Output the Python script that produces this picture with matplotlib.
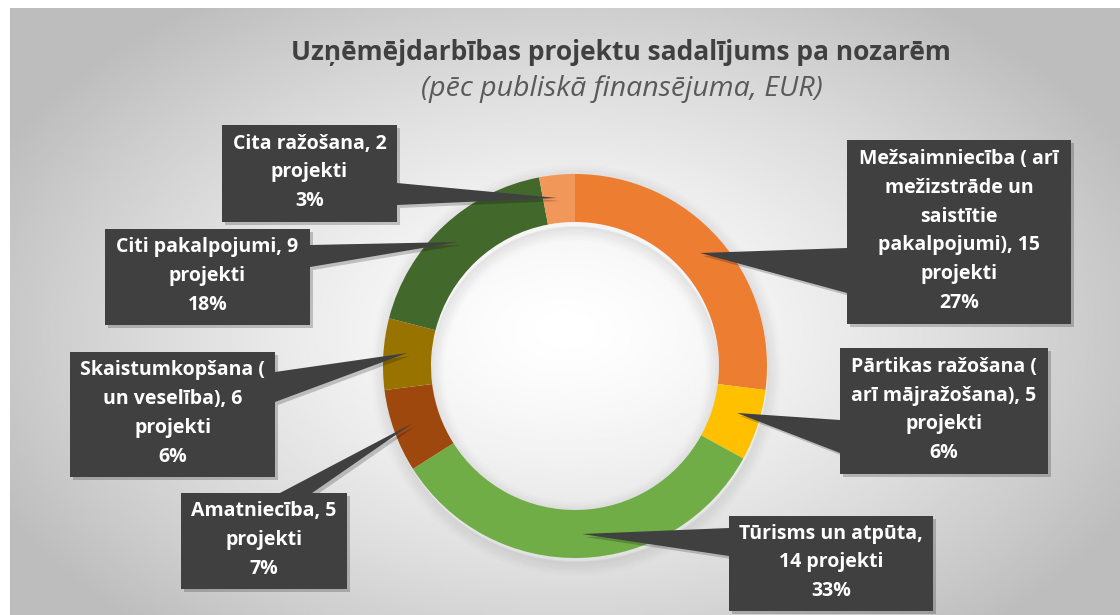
import textwrap
import numpy as np
import matplotlib.pyplot as plt
from matplotlib.patches import Polygon, Circle

# sectors, project counts and share of public funding (%)
sectors = ["Mežsaimniecība ( arī mežizstrāde un saistītie pakalpojumi)",
           "Pārtikas ražošana ( arī mājražošana)",
           "Tūrisms un atpūta",
           "Amatniecība",
           "Skaistumkopšana ( un veselība)",
           "Citi pakalpojumi",
           "Cita ražošana"]
projects = [15, 5, 14, 5, 6, 9, 2]
shares = [27, 6, 33, 7, 6, 18, 3]
colors = ["#ED7D31", "#FFC000", "#70AD47", "#9E480E", "#997300", "#43682B", "#F1975A"]

W, H = 1120, 615
CX, CY, R, RING = 575, 366, 192, 48

# callout layout in image pixels: box (x0, x1, y0, y1), tip, two base points
wrap = [20, 19, 18, 14, 17, 19, 16]
boxes = [(847, 1071, 140, 324), (840, 1048, 348, 474), (729, 933, 516, 611),
         (181, 347, 493, 589), (70, 275, 352, 477), (105, 310, 229, 325),
         (222, 397, 125, 222)]
tips = [(700, 253), (737, 413), (582, 534), (413, 423), (407, 353), (458, 242), (557, 198)]
bases = [((847, 248), (847, 293)), ((840, 420), (840, 453)), ((729, 528), (729, 556)),
         ((280, 493), (312, 493)), ((275, 372), (275, 402)), ((310, 245), (310, 267)),
         ((397, 183), (397, 205))]


def Y(y):
    return H - y


fig = plt.figure(figsize=(W / 100, H / 100), dpi=100)
fig.patch.set_facecolor("white")
ax = fig.add_axes([0, 0, 1, 1])

# radial gradient background
gx, gy = np.meshgrid(np.linspace(10, W, 400), np.linspace(8, H, 250))
r = np.sqrt(((gx - 565) / 600) ** 2 + ((gy - 330) / 380) ** 2)
shade = np.clip(1 - 0.24 * r ** 1.4, 0.74, 1)
ax.imshow(shade, cmap="gray", vmin=0, vmax=1, extent=[10, W, Y(H), Y(8)],
          origin="upper", interpolation="bilinear", zorder=0, aspect="auto")

# soft shadow around the ring
for k in range(14):
    a = 0.045 * (1 - k / 14)
    ax.add_patch(Circle((CX + 1, Y(CY) - 4), R + k, fill=False, lw=1.3, ec="black", alpha=a, zorder=1))
    ax.add_patch(Circle((CX, Y(CY) - 5), R - RING - k, fill=False, lw=1.3, ec="black", alpha=a, zorder=1))

ax.pie(shares, colors=colors, startangle=90, counterclock=False, radius=R,
       center=(CX, Y(CY)), wedgeprops=dict(width=RING, linewidth=0), frame=True)

box_color = "#404040"
for i in range(len(sectors)):
    x0, x1, y0, y1 = boxes[i]
    tx, ty = tips[i]
    (bx0, by0), (bx1, by1) = bases[i]
    rect = [(x0, Y(y0)), (x1, Y(y0)), (x1, Y(y1)), (x0, Y(y1))]
    wedge = [(bx0, Y(by0)), (tx, Y(ty)), (bx1, Y(by1))]
    for shape in (rect, wedge):
        sh = [(px + 3, py - 3) for px, py in shape]
        ax.add_patch(Polygon(sh, closed=True, fc="black", ec="none", alpha=0.2, zorder=3))
    for shape in (rect, wedge):
        ax.add_patch(Polygon(shape, closed=True, fc=box_color, ec="none", zorder=4))
    txt = textwrap.fill(f"{sectors[i]}, {projects[i]} projekti", width=wrap[i]) + f"\n{shares[i]}%"
    ax.text((x0 + x1) / 2, Y((y0 + y1) / 2) + 1, txt, ha="center", va="center",
            color="white", fontsize=14, fontweight="bold", family="Open Sans",
            linespacing=1.58, zorder=5)

ax.text(621, Y(52), "Uzņēmējdarbības projektu sadalījums pa nozarēm", ha="center", va="center",
        fontsize=19, fontweight="bold", color="#404040", family="Open Sans", zorder=5)
ax.text(622, Y(89), "(pēc publiskā finansējuma, EUR)", ha="center", va="center",
        fontsize=20.5, style="italic", color="#595959", family="Open Sans", zorder=5)

ax.set_xlim(0, W)
ax.set_ylim(0, H)
ax.set_aspect("auto")
ax.axis("off")

fig.savefig("out.png", dpi=100)
